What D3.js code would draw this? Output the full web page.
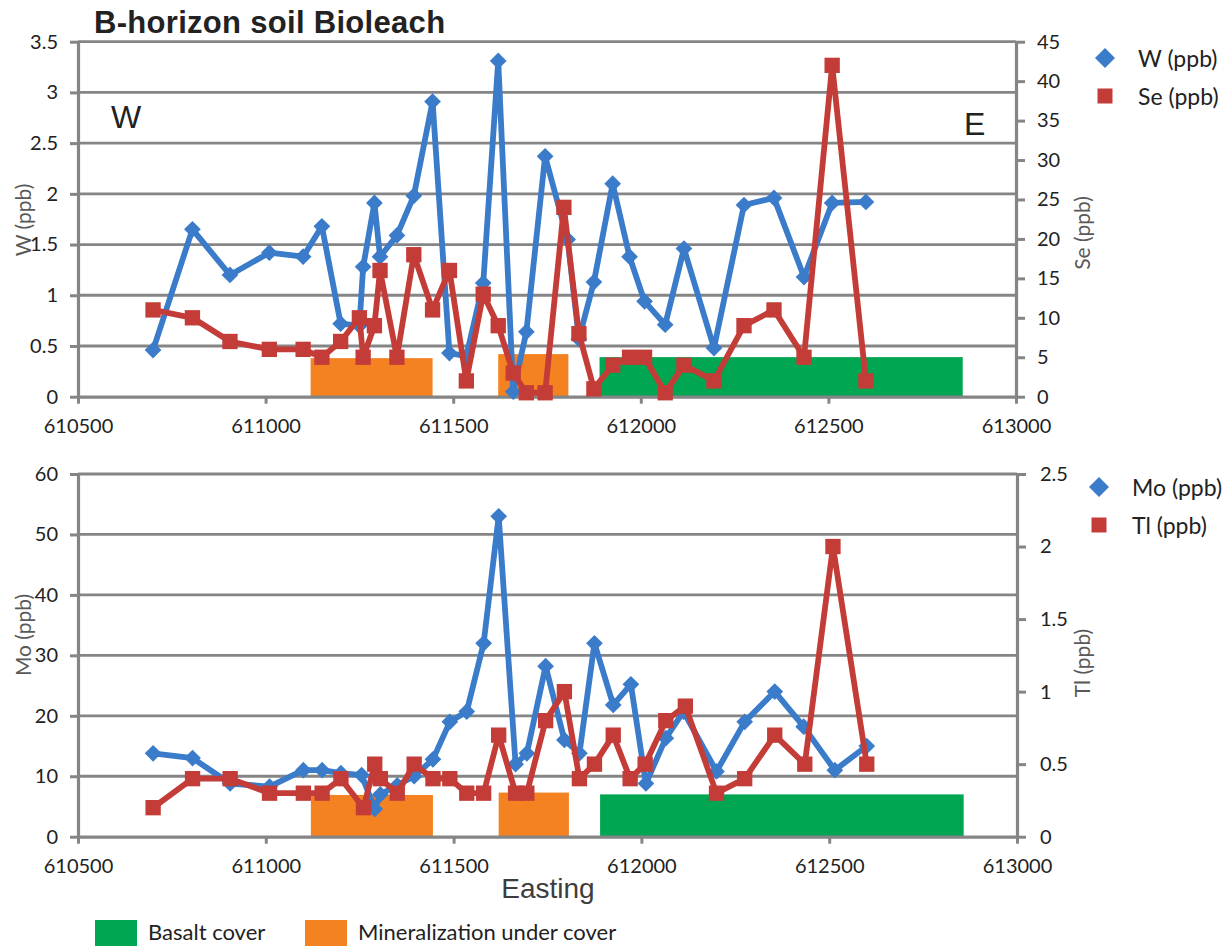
<!DOCTYPE html>
<html>
<head>
<meta charset="utf-8">
<script src="https://cdn.jsdelivr.net/npm/d3@7"></script>
<style>
  body { margin: 0; background: #fff; }
  svg { display: block; }
  text { font-family: Lato, "Open Sans", sans-serif; }
</style>
</head>
<body>
<svg id="chart" width="1226" height="946"></svg>
<script>
// ---- Sample data: B-horizon soil Bioleach traverse (Easting, ppb) ----
const eastingW = [610700, 610805, 610905, 611010, 611100, 611150, 611200, 611250, 611260, 611290, 611305,
  611350, 611395, 611445, 611490, 611535, 611580, 611620, 611660, 611695, 611745, 611805, 611835, 611875,
  611925, 611970, 612010, 612065, 612115, 612195, 612275, 612355, 612435, 612510, 612600];
const tungsten = [0.46, 1.65, 1.2, 1.42, 1.38, 1.68, 0.72, 0.7, 1.28, 1.91, 1.38,
  1.59, 1.98, 2.91, 0.43, 0.4, 1.12, 3.31, 0.05, 0.64, 2.37, 1.55, 0.57, 1.13,
  2.1, 1.38, 0.94, 0.71, 1.46, 0.48, 1.89, 1.96, 1.18, 1.91, 1.92];

const eastingSe = [610700, 610805, 610905, 611010, 611100, 611150, 611200, 611250, 611260, 611290, 611305,
  611350, 611395, 611445, 611490, 611535, 611580, 611620, 611660, 611695, 611745, 611795, 611835, 611875,
  611925, 611970, 612010, 612065, 612115, 612195, 612275, 612355, 612435, 612510, 612600];
const selenium = [11, 10, 7, 6, 6, 5, 7, 10, 5, 9, 16,
  5, 18, 11, 16, 2, 13, 9, 3, 0.5, 0.5, 24, 8, 1,
  4, 5, 5, 0.5, 4, 2, 9, 11, 5, 42, 2];

const eastingMo = [610700, 610805, 610905, 611010, 611100, 611150, 611200, 611255, 611290, 611305,
  611350, 611395, 611445, 611490, 611535, 611580, 611620, 611665, 611695, 611745, 611795, 611835, 611875,
  611925, 611972, 612012, 612065, 612112, 612200, 612275, 612355, 612432, 612515, 612600];
const molybdenum = [13.8, 13, 8.8, 8.3, 11, 11, 10.5, 10.2, 4.6, 7,
  8.5, 10, 12.8, 19, 20.7, 32, 53, 12, 13.8, 28.2, 16, 13.8, 32,
  21.8, 25.2, 8.8, 16.3, 20.7, 10.8, 19, 24, 18.2, 11, 15];

const eastingTl = [610700, 610805, 610905, 611010, 611100, 611150, 611200, 611260, 611290, 611305,
  611350, 611395, 611445, 611490, 611535, 611580, 611620, 611665, 611695, 611745, 611795, 611835, 611875,
  611925, 611970, 612010, 612065, 612117, 612200, 612275, 612355, 612435, 612510, 612600];
const thallium = [0.2, 0.4, 0.4, 0.3, 0.3, 0.3, 0.4, 0.2, 0.5, 0.4,
  0.3, 0.5, 0.4, 0.4, 0.3, 0.3, 0.7, 0.3, 0.3, 0.8, 1.0, 0.4, 0.5,
  0.7, 0.4, 0.5, 0.8, 0.9, 0.3, 0.4, 0.7, 0.5, 2.0, 0.5];

// Cover zones along the traverse (Easting from/to) with their bar heights per panel
const zoneFrom = [611120, 611620, 611890];
const zoneTo = [611445, 611807, 612858];
const zoneKind = ["mineralization", "mineralization", "basalt"];
const zoneTopW = [0.38, 0.42, 0.39];     // in W (ppb) units
const zoneTopMo = [6.9, 7.3, 7.0];       // in Mo (ppb) units

const eastingTicks = [610500, 611000, 611500, 612000, 612500, 613000];
const wTicks = [0, 0.5, 1, 1.5, 2, 2.5, 3, 3.5];
const seTicks = [0, 5, 10, 15, 20, 25, 30, 35, 40, 45];
const moTicks = [0, 10, 20, 30, 40, 50, 60];
const tlTicks = [0, 0.5, 1, 1.5, 2, 2.5];

const legendZones = ["Basalt cover", "Mineralization under cover"];

// ---- Styling ----
const BLUE = "#3a7bca";
const RED = "#c43c38";
const ORANGE = "#f48220";
const GREEN = "#00a651";
const GRID = "#858585";
const zoneColor = { basalt: GREEN, mineralization: ORANGE };

const svg = d3.select("#chart");

function drawPanel(cfg) {
  const x = d3.scaleLinear().domain([610500, 613000]).range([cfg.x0, cfg.x1]);
  const yL = d3.scaleLinear().domain(cfg.leftDomain).range([cfg.yBottom, cfg.yTop]);
  const yR = d3.scaleLinear().domain(cfg.rightDomain).range([cfg.yBottom, cfg.yTop]);
  const g = svg.append("g");

  // horizontal gridlines at left-axis ticks
  g.append("g").selectAll("line").data(cfg.leftTicks.slice(1)).join("line")
    .attr("x1", cfg.x0).attr("x2", cfg.x1)
    .attr("y1", d => yL(d)).attr("y2", d => yL(d))
    .attr("stroke", GRID).attr("stroke-width", 2.8);

  // cover zone bars
  g.append("g").selectAll("rect").data(zoneFrom.map((f, i) => i)).join("rect")
    .attr("x", i => x(zoneFrom[i]))
    .attr("width", i => x(zoneTo[i]) - x(zoneFrom[i]))
    .attr("y", i => yL(cfg.zoneTop[i]))
    .attr("height", i => yL(0) - yL(cfg.zoneTop[i]))
    .attr("fill", i => zoneColor[zoneKind[i]]);

  const styleAxis = sel => {
    sel.select(".domain").attr("stroke", GRID).attr("stroke-width", 3.2);
    sel.selectAll(".tick line").attr("stroke", GRID).attr("stroke-width", 3);
    sel.selectAll(".tick text").attr("fill", "#222")
      .style("font-family", "Lato, sans-serif").style("font-size", cfg.tickFont + "px");
  };

  // left axis
  g.append("g").attr("transform", `translate(${cfg.x0},0)`)
    .call(d3.axisLeft(yL).tickValues(cfg.leftTicks).tickSize(8).tickSizeOuter(0)
      .tickPadding(12).tickFormat(d3.format("~g")))
    .call(styleAxis);

  // right axis
  g.append("g").attr("transform", `translate(${cfg.x1},0)`)
    .call(d3.axisRight(yR).tickValues(cfg.rightTicks).tickSize(9).tickSizeOuter(0)
      .tickPadding(cfg.rightPad).tickFormat(d3.format("~g")))
    .call(styleAxis);

  // bottom axis
  g.append("g").attr("transform", `translate(0,${cfg.yBottom})`)
    .call(d3.axisBottom(x).tickValues(eastingTicks).tickSize(7).tickSizeOuter(0)
      .tickPadding(15).tickFormat(d => String(d)))
    .call(styleAxis);

  // series lines + markers
  const line = d3.line().x(d => x(d[0])).y(d => d[1]);
  cfg.series.forEach(s => {
    const scale = s.axis === "left" ? yL : yR;
    const pts = s.xs.map((e, i) => [e, scale(s.ys[i])]);
    g.append("path").datum(pts).attr("d", line)
      .attr("fill", "none").attr("stroke", s.color).attr("stroke-width", 5.8)
      .attr("stroke-linejoin", "round");
    const sym = s.shape === "diamond"
      ? d3.symbol(d3.symbolSquare, 140)
      : d3.symbol(d3.symbolSquare, 235);
    g.append("g").selectAll("path").data(pts).join("path")
      .attr("d", sym)
      .attr("transform", d => `translate(${x(d[0])},${d[1]})` + (s.shape === "diamond" ? " rotate(45)" : ""))
      .attr("fill", s.color);
  });

  // axis titles
  const title = (txt, cx, cy) => g.append("text")
    .attr("transform", `translate(${cx},${cy}) rotate(-90)`)
    .attr("text-anchor", "middle").attr("dominant-baseline", "central")
    .attr("fill", "#595959").style("font-size", "21px").text(txt);
  title(cfg.leftTitle, 22, cfg.leftTitleY);
  title(cfg.rightTitle, 1081, cfg.rightTitleY);

  // legend
  cfg.series.forEach((s, i) => {
    const ly = cfg.legendY + i * 38;
    const sym = s.shape === "diamond"
      ? d3.symbol(d3.symbolSquare, 200)
      : d3.symbol(d3.symbolSquare, 225);
    g.append("path").attr("d", sym)
      .attr("transform", `translate(${cfg.legendX},${ly})` + (s.shape === "diamond" ? " rotate(45)" : ""))
      .attr("fill", s.color);
    g.append("text").attr("x", cfg.legendX + 33).attr("y", ly)
      .attr("dominant-baseline", "central").attr("fill", "#222")
      .style("font-size", "23px").text(s.name);
  });
}

drawPanel({
  x0: 78, x1: 1016, yTop: 41.7, yBottom: 396.7,
  leftDomain: [0, 3.5], rightDomain: [0, 45],
  leftTicks: wTicks, rightTicks: seTicks, rightPad: 12, tickFont: 20,
  zoneTop: zoneTopW,
  leftTitle: "W (ppb)", leftTitleY: 220, rightTitle: "Se (ppb)", rightTitleY: 233,
  legendX: 1105, legendY: 58,
  series: [
    { name: "W (ppb)", xs: eastingW, ys: tungsten, axis: "left", color: BLUE, shape: "diamond" },
    { name: "Se (ppb)", xs: eastingSe, ys: selenium, axis: "right", color: RED, shape: "square" }
  ]
});

drawPanel({
  x0: 78, x1: 1017, yTop: 474, yBottom: 836.7,
  leftDomain: [0, 60], rightDomain: [0, 2.5],
  leftTicks: moTicks, rightTicks: tlTicks, rightPad: 14, tickFont: 20,
  zoneTop: zoneTopMo,
  leftTitle: "Mo (ppb)", leftTitleY: 635, rightTitle: "Tl (ppb)", rightTitleY: 663,
  legendX: 1099, legendY: 487,
  series: [
    { name: "Mo (ppb)", xs: eastingMo, ys: molybdenum, axis: "left", color: BLUE, shape: "diamond" },
    { name: "Tl (ppb)", xs: eastingTl, ys: thallium, axis: "right", color: RED, shape: "square" }
  ]
});

// chart title
svg.append("text").attr("x", 94).attr("y", 33)
  .style("font-family", "'Liberation Sans', Arial, sans-serif")
  .style("font-weight", "bold").style("font-size", "31px").style("letter-spacing", "0.3px")
  .attr("fill", "#222")
  .text("B-horizon soil Bioleach");

// direction labels
svg.append("text").attr("x", 111).attr("y", 128)
  .style("font-family", "'Liberation Sans', Arial, sans-serif").style("font-size", "32px")
  .attr("fill", "#222").text("W");
svg.append("text").attr("x", 964).attr("y", 135)
  .style("font-family", "'Liberation Sans', Arial, sans-serif").style("font-size", "32px")
  .attr("fill", "#222").text("E");

// x-axis title
svg.append("text").attr("x", 548).attr("y", 898).attr("text-anchor", "middle")
  .style("font-family", "'Liberation Sans', Arial, sans-serif").style("font-size", "28px")
  .attr("fill", "#3d3d3d").text("Easting");

// zone legend
const zl = svg.append("g");
[GREEN, ORANGE].forEach((c, i) => {
  const lx = [95, 305][i];
  zl.append("rect").attr("x", lx).attr("y", 920).attr("width", 42).attr("height", 30).attr("fill", c);
  zl.append("text").attr("x", lx + 53).attr("y", 940).attr("fill", "#222")
    .style("font-size", "22px").text(legendZones[i]);
});
</script>
</body>
</html>
